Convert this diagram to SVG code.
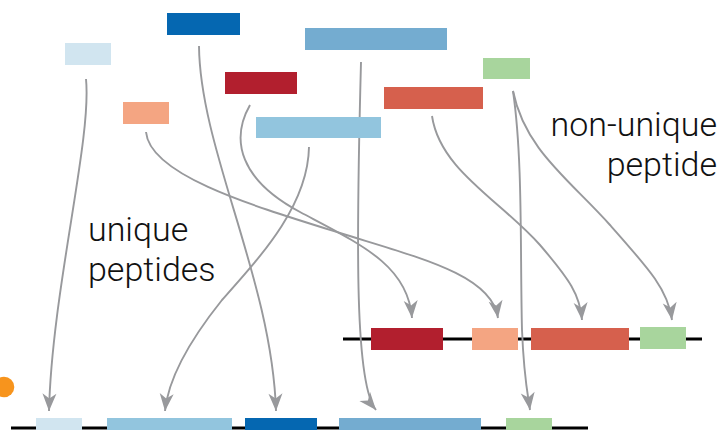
<svg xmlns="http://www.w3.org/2000/svg" width="724" height="430" viewBox="0 0 724 430">
<style>
.lbl{font-family:Roboto,"Liberation Sans",Arial,sans-serif;font-weight:300;font-size:34px;fill:#111}
.c{fill:none;stroke:#98999c;stroke-width:1.9;marker-end:url(#ah)}
.prot{stroke:#000;stroke-width:3}
</style>
<defs>
<marker id="ah" markerUnits="userSpaceOnUse" viewBox="-19 -8 20 16" refX="0" refY="0" markerWidth="20" markerHeight="16" orient="auto">
<path d="M0,0 L-17.5,-7 L-12.5,0 L-17.5,7 Z" fill="#98999c"/>
</marker>
</defs>
<rect width="724" height="430" fill="#fff"/>

<g id="protein-lines">
<line class="prot" x1="343" y1="339" x2="702" y2="339"/>
<line class="prot" x1="11" y1="428" x2="588" y2="428"/>
</g>

<g id="connectors">
<path class="c" d="M86,79 C92,140 52,290 49,411"/>
<path class="c" d="M199,46 C200,150 272,280 276,411"/>
<path class="c" d="M361,62 C356,250 355,385 376,410"/>
<path class="c" d="M250,105 C230,140 240,180 300,212 C360,244 408,265 412,318"/>
<path class="c" d="M146,132 C150,175 250,205 340,233 C420,258 492,275 498,318"/>
<path class="c" d="M309,147 C308,205 262,255 222,300 C186,345 168,380 165,411"/>
<path class="c" d="M432,116 C440,170 500,200 540,245 C570,280 580,295 582,320"/>
<path class="c" d="M513,91 C525,150 570,180 610,225 C650,270 668,290 672,320"/>
<path class="c" d="M513,91 C523,160 520,250 522,330 C524,380 528,395 530,410"/>
</g>

<g id="pep-paleblue"><rect x="65" y="43" width="46" height="22" fill="#d1e5f0"/></g>
<g id="pep-darkblue"><rect x="167" y="13" width="73" height="22" fill="#0567b1"/></g>
<g id="pep-medblue"><rect x="305" y="28" width="142" height="22" fill="#74acd0"/></g>
<g id="pep-darkred"><rect x="225" y="72" width="72" height="22" fill="#b21f2e"/></g>
<g id="pep-salmon"><rect x="123" y="102" width="46" height="22" fill="#f4a582"/></g>
<g id="pep-lightblue"><rect x="256" y="117" width="125" height="21" fill="#92c5de"/></g>
<g id="pep-green"><rect x="483" y="58" width="47" height="21" fill="#a8d59d"/></g>
<g id="pep-redorange"><rect x="384" y="87" width="99" height="22" fill="#d6604d"/></g>

<g id="prot2-darkred"><rect x="371" y="328" width="72" height="22" fill="#b21f2e"/></g>
<g id="prot2-salmon"><rect x="472" y="328" width="46" height="22" fill="#f4a582"/></g>
<g id="prot2-redorange"><rect x="531" y="328" width="98" height="22" fill="#d6604d"/></g>
<g id="prot2-green"><rect x="640" y="327" width="46" height="22" fill="#a8d59d"/></g>

<g id="prot1-paleblue"><rect x="36" y="418" width="46" height="22" fill="#d1e5f0"/></g>
<g id="prot1-lightblue"><rect x="107" y="418" width="125" height="22" fill="#92c5de"/></g>
<g id="prot1-darkblue"><rect x="245" y="418" width="72" height="22" fill="#0567b1"/></g>
<g id="prot1-medblue"><rect x="339" y="418" width="142" height="22" fill="#74acd0"/></g>
<g id="prot1-green"><rect x="506" y="418" width="46" height="22" fill="#a8d59d"/></g>

<g id="dot"><circle cx="4" cy="387" r="10.3" fill="#f7941d"/></g>

<g id="label-unique">
<text class="lbl" x="88" y="241">unique</text>
<text class="lbl" x="88" y="281">peptides</text>
</g>
<g id="label-nonunique">
<text class="lbl" x="717" y="136" text-anchor="end">non-unique</text>
<text class="lbl" x="717" y="176" text-anchor="end">peptide</text>
</g>
</svg>
